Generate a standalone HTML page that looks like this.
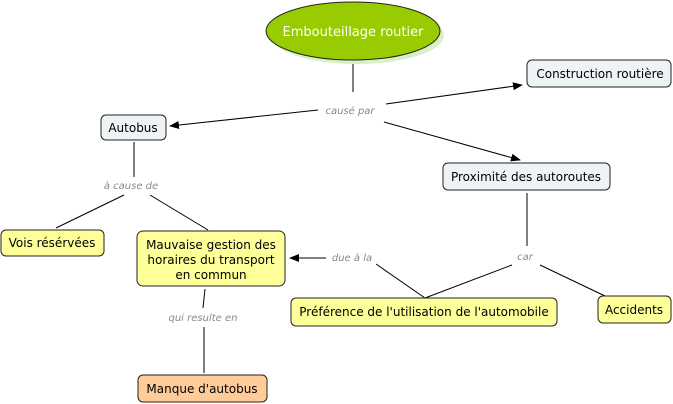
<!DOCTYPE html>
<html><head><meta charset="utf-8"><style>
body{margin:0;background:#fff}
svg{display:block;font-family:"DejaVu Sans","Liberation Sans",sans-serif}
.n{stroke:#222;stroke-width:1}
.t{font-size:12px;fill:#000;text-anchor:middle}
.l{font-size:10px;fill:#888;font-style:italic;text-anchor:middle}
line{stroke:#000;stroke-width:1}
</style></head><body>
<svg width="673" height="404" viewBox="0 0 673 404">
<defs><marker id="a" markerWidth="10" markerHeight="8" refX="9" refY="4" orient="auto" markerUnits="userSpaceOnUse"><path d="M0,0L10,4L0,8z" fill="#000"/></marker></defs>
<ellipse cx="357" cy="35" rx="87" ry="29" fill="#d8f0c8"/>
<ellipse cx="353" cy="31" rx="87" ry="29" fill="#99cc00" class="n"/>
<text x="353" y="36" class="t" style="fill:#fff;font-size:13px">Embouteillage routier</text>

<line x1="353" y1="64" x2="353" y2="92"/>
<text x="350" y="114" class="l">causé par</text>
<line x1="386" y1="104" x2="522" y2="85" marker-end="url(#a)"/>
<line x1="384" y1="122" x2="520" y2="160" marker-end="url(#a)"/>
<line x1="318" y1="110" x2="170" y2="126" marker-end="url(#a)"/>

<line x1="134" y1="142" x2="134" y2="177"/>
<text x="131" y="189" class="l">à cause de</text>
<line x1="124" y1="195" x2="56" y2="228"/>
<line x1="150" y1="195" x2="208" y2="230"/>

<line x1="527" y1="193" x2="527" y2="246"/>
<text x="525" y="260" class="l">car</text>
<line x1="512" y1="265" x2="425" y2="298"/>
<line x1="540" y1="265" x2="605" y2="296"/>
<line x1="425" y1="298" x2="376" y2="264"/>
<text x="352" y="261" class="l">due à la</text>
<line x1="326" y1="258" x2="290" y2="258" marker-end="url(#a)"/>

<line x1="205" y1="289" x2="203" y2="308"/>
<text x="203" y="321" class="l">qui resulte en</text>
<line x1="204" y1="327" x2="204" y2="373"/>

<rect x="527" y="60" width="144" height="27" rx="5" fill="#eef3f6" class="n"/>
<text x="600" y="78" class="t">Construction routière</text>
<rect x="101" y="115" width="65" height="25" rx="5" fill="#eef3f6" class="n"/>
<text x="133" y="132" class="t">Autobus</text>
<rect x="443" y="163" width="167" height="27" rx="5" fill="#eef3f6" class="n"/>
<text x="526" y="181" class="t">Proximité des autoroutes</text>
<rect x="1" y="230" width="103" height="26" rx="5" fill="#ffff99" class="n"/>
<text x="52" y="247" class="t">Vois résérvées</text>
<rect x="137" y="231" width="148" height="55" rx="6" fill="#ffff99" class="n"/>
<text x="211" y="249" class="t">Mauvaise gestion des</text>
<text x="211" y="264" class="t">horaires du transport</text>
<text x="211" y="279" class="t">en commun</text>
<rect x="291" y="298" width="266" height="28" rx="5" fill="#ffff99" class="n"/>
<text x="424" y="316" class="t">Préférence de l'utilisation de l'automobile</text>
<rect x="598" y="296" width="73" height="27" rx="5" fill="#ffff99" class="n"/>
<text x="634" y="314" class="t">Accidents</text>
<rect x="138" y="375" width="129" height="27" rx="5" fill="#ffcc99" class="n"/>
<text x="202" y="393" class="t">Manque d'autobus</text>
</svg>
</body></html>
